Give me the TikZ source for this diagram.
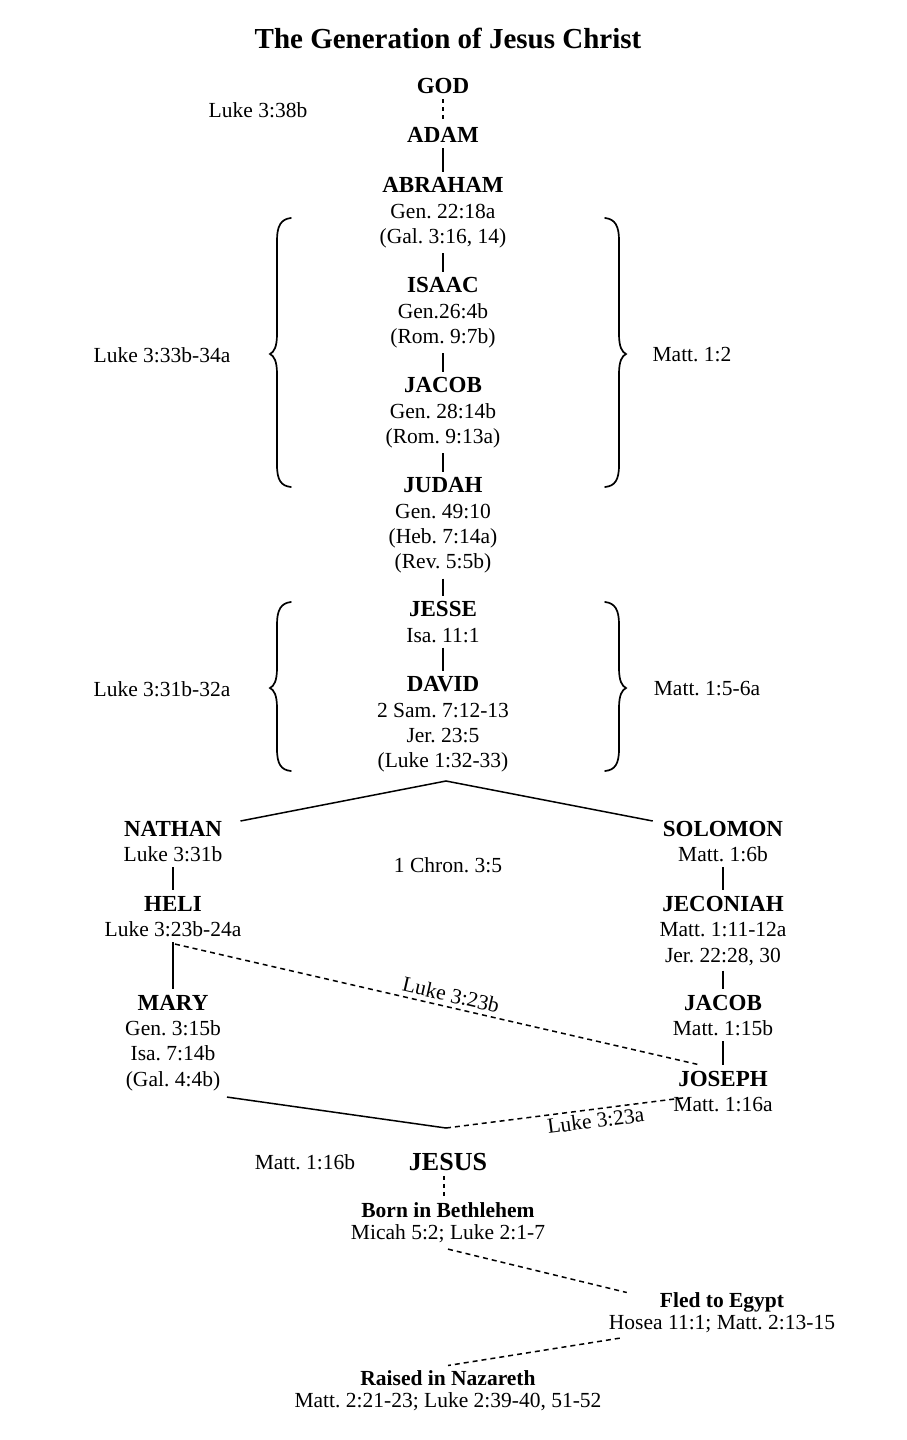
\documentclass[tikz,border=0pt]{standalone}
\usepackage{fontspec}
\setmainfont{Liberation Serif}
\frenchspacing
\newcommand\pname[1]{{\fontsize{23}{25.3}\selectfont\bfseries #1}}
\begin{document}
\begin{tikzpicture}[x=1pt,y=-1pt,
  pers/.style={anchor=north, inner sep=0pt, align=center, font=\fontsize{21.5}{25.3}\selectfont},
  event/.style={anchor=north, inner sep=0pt, align=center, font=\fontsize{21.5}{22}\selectfont},
  side/.style={inner sep=0pt, font=\fontsize{21.5}{25.3}\selectfont},
  conn/.style={line width=1.4pt, shorten <=5pt, shorten >=6pt},
  sdconn/.style={conn, dash pattern=on 4pt off 4pt},
  dline/.style={line width=1.5pt, dash pattern=on 5pt off 4pt},
  brace/.style={line width=1.7pt, line cap=round},
  plain/.style={line width=1.5pt}
]
\useasboundingbox (0,0) rectangle (906,1440);
\fill[white] (0,0) rectangle (906,1440);

\node[anchor=base, inner sep=0pt, font=\fontsize{29}{30}\selectfont\bfseries] (title) at (448,48) {The Generation of Jesus Christ};

% central line
\node[pers] (god) at (443,78.5) {\pname{GOD}};
\node[side] (l338) at (258,110) {Luke 3:38b};
\node[pers] (adam) at (443,127.5) {\pname{ADAM}};
\node[pers] (abraham) at (443,177.5) {\pname{ABRAHAM}\\Gen. 22:18a\\(Gal. 3:16, 14)};
\node[pers] (isaac) at (443,277.5) {\pname{ISAAC}\\Gen.26:4b\\(Rom. 9:7b)};
\node[pers] (jacob) at (443,377.5) {\pname{JACOB}\\Gen. 28:14b\\(Rom. 9:13a)};
\node[pers] (judah) at (443,477.5) {\pname{JUDAH}\\Gen. 49:10\\(Heb. 7:14a)\\(Rev. 5:5b)};
\node[pers] (jesse) at (443,601.5) {\pname{JESSE}\\Isa. 11:1};
\node[pers] (david) at (443,676.5) {\pname{DAVID}\\2 Sam. 7:12-13\\Jer. 23:5\\(Luke 1:32-33)};

\node[side] (l3334) at (162,355) {Luke 3:33b-34a};
\node[side] (m12) at (692,355) {Matt. 1:2};
\node[side] (l3132) at (162,689) {Luke 3:31b-32a};
\node[side] (m156) at (707,689) {Matt. 1:5-6a};

\draw[sdconn] (god) -- (adam);
\draw[conn] (adam) -- (abraham);
\draw[conn] (abraham) -- (isaac);
\draw[conn] (isaac) -- (jacob);
\draw[conn] (jacob) -- (judah);
\draw[conn] (judah) -- (jesse);
\draw[conn] (jesse) -- (david);

% braces
\draw[brace] (291,218) .. controls (281,219) and (277,226) .. (277,240) -- (277,334)
  .. controls (277,347) and (274,352) .. (270,354) .. controls (274,356) and (277,361) .. (277,374)
  -- (277,465) .. controls (277,480) and (281,486) .. (291,487);
\draw[brace] (605,218) .. controls (615,219) and (619,226) .. (619,240) -- (619,334)
  .. controls (619,347) and (622,352) .. (626,354) .. controls (622,356) and (619,361) .. (619,374)
  -- (619,465) .. controls (619,480) and (615,486) .. (605,487);
\draw[brace] (291,602) .. controls (281,603) and (277,610) .. (277,624) -- (277,668)
  .. controls (277,681) and (274,686) .. (270,688) .. controls (274,690) and (277,695) .. (277,708)
  -- (277,749) .. controls (277,764) and (281,770) .. (291,771);
\draw[brace] (605,602) .. controls (615,603) and (619,610) .. (619,624) -- (619,668)
  .. controls (619,681) and (622,686) .. (626,688) .. controls (622,690) and (619,695) .. (619,708)
  -- (619,749) .. controls (619,764) and (615,770) .. (605,771);

% split
\coordinate (split) at (446,781);
\node[pers] (nathan) at (173,821) {\pname{NATHAN}\\Luke 3:31b};
\node[pers] (solomon) at (723,821) {\pname{SOLOMON}\\Matt. 1:6b};
\node[side] (chron) at (448,865) {1 Chron. 3:5};
\draw[plain] ([xshift=18pt]nathan.north east) -- (split) -- ([xshift=-10pt]solomon.north west);

\node[pers] (heli) at (173,896) {\pname{HELI}\\Luke 3:23b-24a};
\node[pers] (mary) at (173,995) {\pname{MARY}\\Gen. 3:15b\\Isa. 7:14b\\(Gal. 4:4b)};
\node[pers] (jeconiah) at (723,896) {\pname{JECONIAH}\\Matt. 1:11-12a\\Jer. 22:28, 30};
\node[pers] (jacobb) at (723,995) {\pname{JACOB}\\Matt. 1:15b};
\node[pers] (joseph) at (723,1071) {\pname{JOSEPH}\\Matt. 1:16a};

\draw[conn] (nathan) -- (heli);
\draw[conn] (heli) -- (mary);
\draw[conn] (solomon) -- (jeconiah);
\draw[conn] (jeconiah) -- (jacobb);
\draw[conn] (jacobb) -- (joseph);

\draw[dline] ([shift={(2pt,-7pt)}]heli.south) -- ([shift={(27pt,6pt)}]joseph.north west)
  node[pos=0.52, sloped, above, inner sep=4pt, font=\fontsize{21.5}{25}\selectfont] (l323b) {Luke 3:23b};

\coordinate (meet) at (446,1128);
\draw[plain] ([shift={(6pt,-6pt)}]mary.south east) -- (meet);
\draw[dline] (meet) -- ([shift={(12pt,-6pt)}]joseph.west)
  node[pos=0.62, sloped, below, inner sep=3pt, font=\fontsize{21.5}{25}\selectfont] (l323a) {Luke 3:23a};

% Jesus
\node[anchor=north, inner sep=0pt, font=\fontsize{26}{28}\selectfont\bfseries] (jesus) at (448,1153) {JESUS};
\node[side] (m116b) at (305,1162) {Matt. 1:16b};
\node[event] (born) at (448,1202.5) {\textbf{Born in Bethlehem}\\Micah 5:2; Luke 2:1-7};
\node[event] (fled) at (722,1292.5) {\textbf{Fled to Egypt}\\Hosea 11:1; Matt. 2:13-15};
\node[event] (raised) at (448,1370.5) {\textbf{Raised in Nazareth}\\Matt. 2:21-23; Luke 2:39-40, 51-52};

\draw[sdconn] ([xshift=-4pt]jesus.south) -- ([xshift=-4pt]born.north);
\draw[dline] ([yshift=-6pt]born.south) -- ([xshift=18pt]fled.north west);
\draw[dline] ([shift={(11pt,-5pt)}]fled.south west) -- ([yshift=5pt]raised.north);
\end{tikzpicture}
\end{document}
